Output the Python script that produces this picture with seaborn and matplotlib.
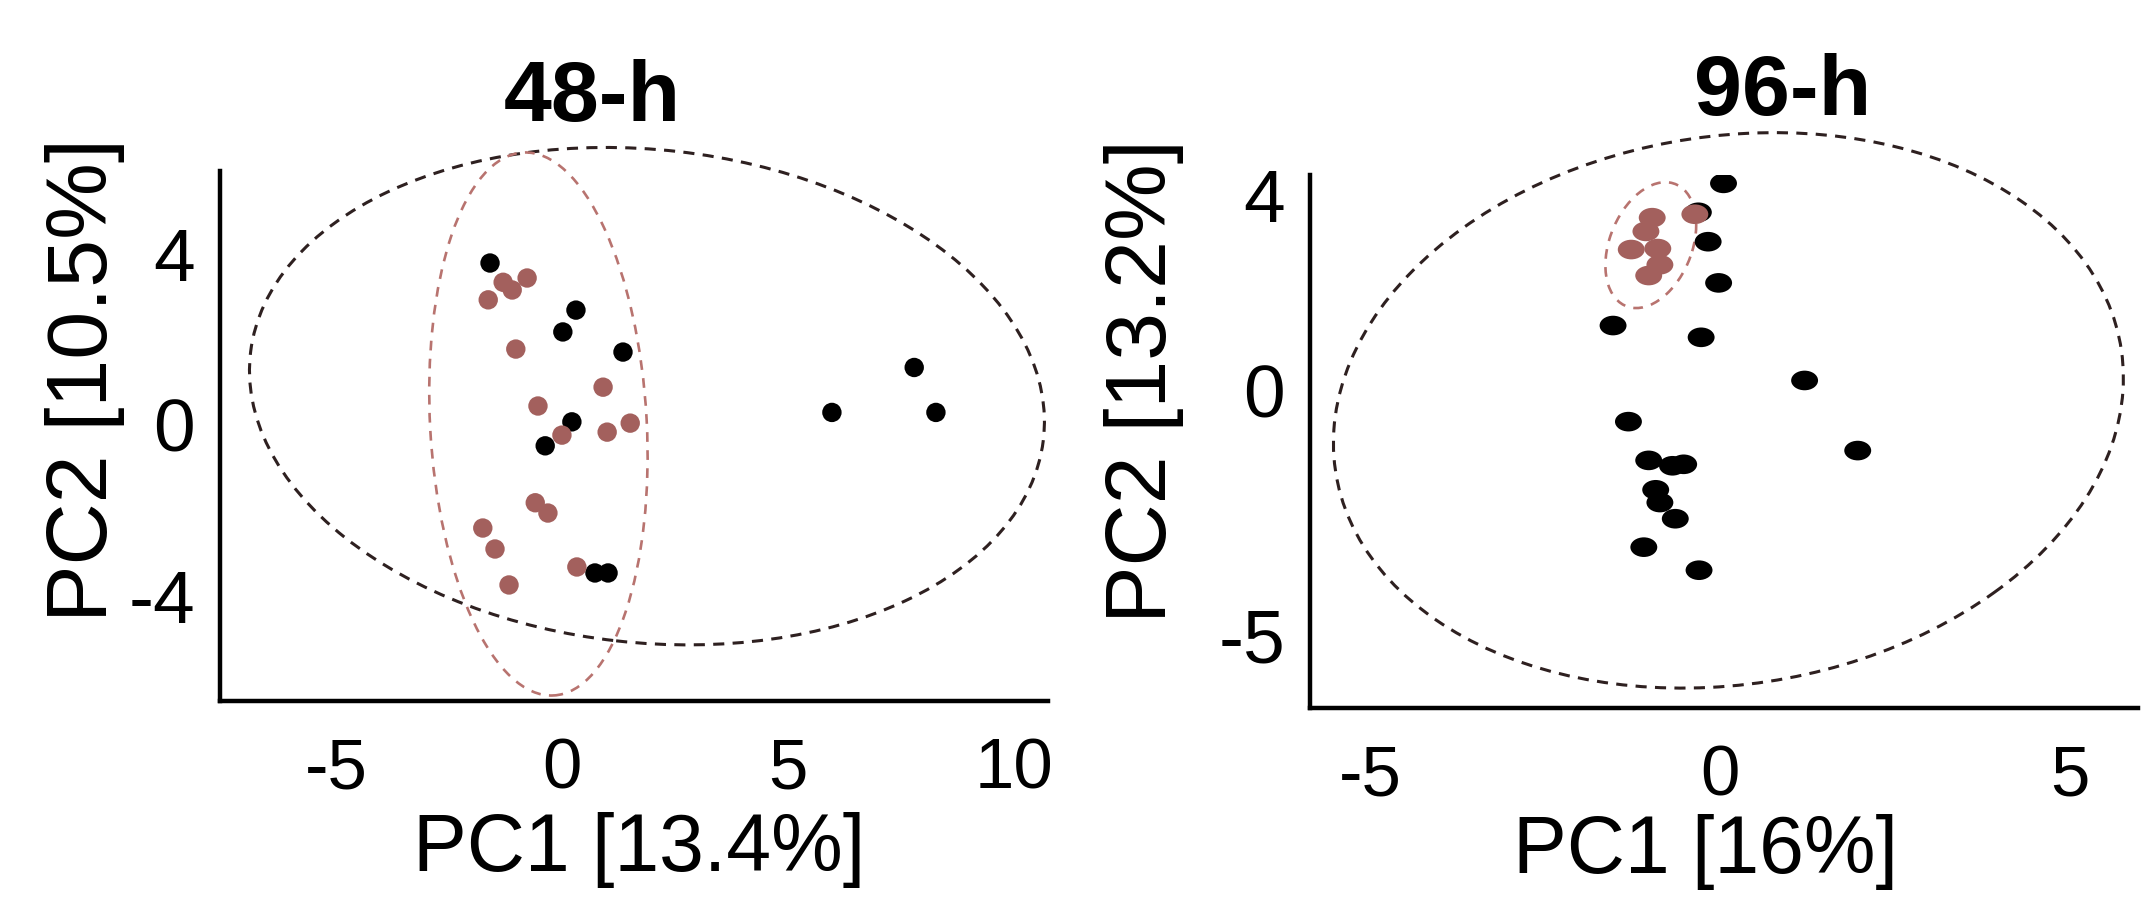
import matplotlib
matplotlib.use('Agg')
import pandas as pd
import seaborn as sns
import matplotlib.pyplot as plt
from matplotlib.patches import Ellipse
from matplotlib.markers import MarkerStyle
from matplotlib.transforms import Affine2D
from matplotlib import font_manager

# ---- 48-h scores ----
pc1_48_a = [-1.59, 0.31, 0.02, 1.35, 0.22, -0.37, 7.79, 5.97, 8.27, 0.73, 1.02]
pc2_48_a = [3.78, 2.68, 2.17, 1.70, 0.07, -0.49, 1.34, 0.29, 0.29, -3.46, -3.46]
pc1_48_b = [-1.30, -1.10, -0.77, -1.63, -1.02, 0.91, -0.53, 0.00, 1.00, 1.51,
            -0.59, -0.31, -1.75, -1.48, 0.33, -1.17]
pc2_48_b = [3.33, 3.15, 3.43, 2.92, 1.77, 0.88, 0.44, -0.24, -0.17, 0.04,
            -1.82, -2.06, -2.41, -2.90, -3.32, -3.74]

# ---- 96-h scores ----
pc1_96_a = [0.05, -0.31, -0.17, -0.02, -1.53, -0.27, 1.21, -1.31, 1.97, -1.02,
            -0.68, -0.52, -0.92, -0.86, -0.64, -1.09, -0.30]
pc2_96_a = [4.23, 3.64, 3.04, 2.20, 1.33, 1.09, 0.21, -0.63, -1.22, -1.42,
            -1.53, -1.50, -2.02, -2.28, -2.61, -3.19, -3.66]
pc1_96_b = [-0.97, -1.06, -1.27, -0.89, -0.86, -1.02, -0.36]
pc2_96_b = [3.53, 3.25, 2.88, 2.90, 2.57, 2.35, 3.60]

# confidence ellipses (center x, center y, width, height, angle), group A then B
ell48_cx = [1.88, -0.52]
ell48_cy = [0.67, 0.02]
ell48_w = [17.65, 4.79]
ell48_h = [11.51, 12.70]
ell48_ang = [-6.8, 3.0]

ell96_cx = [0.12, -0.99]
ell96_cy = [-0.40, 2.97]
ell96_w = [11.96, 2.61]
ell96_h = [10.63, 1.21]
ell96_ang = [45.6, 78.2]

titles = ['48-h', '96-h']
xlabels = ['PC1 [13.4%]', 'PC1 [16%]']
ylabels = ['PC2 [10.5%]', 'PC2 [13.2%]']
xticks = [[-5, 0, 5, 10], [-5, 0, 5]]
yticks = [[4, 0, -4], [4, 0, -5]]

BLACK = '#000000'
BROWN = '#a3605d'
ELL_DARK = '#2e2020'
ELL_BROWN = '#b8736f'

sns.set_style('white')
plt.rcParams['font.family'] = ['Liberation Sans', 'DejaVu Sans']
plt.rcParams['axes.unicode_minus'] = False
plt.rcParams['lines.scale_dashes'] = False
for key in ['text.color', 'axes.labelcolor', 'xtick.color', 'ytick.color']:
    plt.rcParams[key] = 'black'

names = {f.name for f in font_manager.fontManager.ttflist}
narrow = 'Liberation Sans Narrow' if 'Liberation Sans Narrow' in names else 'Liberation Sans'

fig = plt.figure(figsize=(21.49, 8.98), dpi=100)
ax1 = fig.add_axes([0.1024, 0.2194, 0.3853, 0.5902])
ax2 = fig.add_axes([0.6096, 0.2116, 0.3853, 0.5935])


def make_df(x_a, y_a, x_b, y_b):
    return pd.DataFrame({
        'PC1': x_a + x_b,
        'PC2': y_a + y_b,
        'group': ['A'] * len(x_a) + ['B'] * len(x_b),
    })


df48 = make_df(pc1_48_a, pc2_48_a, pc1_48_b, pc2_48_b)
df96 = make_df(pc1_96_a, pc2_96_a, pc1_96_b, pc2_96_b)
pal = {'A': BLACK, 'B': BROWN}

sns.scatterplot(data=df48, x='PC1', y='PC2', hue='group', palette=pal, s=195,
                linewidth=0, legend=False, ax=ax1, zorder=3)
# points in the 96-h panel are slightly squashed ovals
oval = MarkerStyle('o', transform=Affine2D().scale(1.37, 1.0))
sns.scatterplot(data=df96, x='PC1', y='PC2', hue='group', palette=pal, s=200,
                marker=oval, linewidth=0, legend=False, ax=ax2, zorder=3)

for ax, cx, cy, w, h, ang in [(ax1, ell48_cx, ell48_cy, ell48_w, ell48_h, ell48_ang),
                               (ax2, ell96_cx, ell96_cy, ell96_w, ell96_h, ell96_ang)]:
    styles = [(ELL_DARK, 2.2, (0, (8.0, 6.0))), (ELL_BROWN, 1.9, (0, (7.0, 6.0)))]
    for i in range(2):
        col, lw, ls = styles[i]
        ax.add_patch(Ellipse((cx[i], cy[i]), w[i], h[i], angle=ang[i], fill=False,
                             edgecolor=col, linewidth=lw, linestyle=ls, zorder=1,
                             clip_on=False))

ax1.set_xlim(-7.56, 10.75)
ax1.set_ylim(-6.45, 5.93)
ax2.set_xlim(-5.865, 5.98)
ax2.set_ylim(-6.47, 4.40)

title_pos = [(0.449, 1.136), (0.571, 1.154)]
xlab_pos = [(0.506, -0.281), (0.478, -0.270)]
ylab_pos = [(-0.163, 0.606), (-0.200, 0.613)]

for i, ax in enumerate([ax1, ax2]):
    for side in ['top', 'right']:
        ax.spines[side].set_visible(False)
    for side in ['left', 'bottom']:
        ax.spines[side].set_linewidth(3.2)
        ax.spines[side].set_color('black')
    ax.set_xticks(xticks[i], labels=[str(t) for t in xticks[i]], fontsize=51, fontfamily=narrow)
    ax.set_yticks(yticks[i], labels=[str(t) for t in yticks[i]], fontsize=54)
    ax.tick_params(axis='x', length=0, pad=26)
    ax.tick_params(axis='y', length=0, pad=18)
    ax.set_xlabel(xlabels[i], fontsize=58, va='center')
    ax.set_ylabel(ylabels[i], fontsize=62, va='center')
    ax.xaxis.set_label_coords(*xlab_pos[i])
    ax.yaxis.set_label_coords(*ylab_pos[i])
    ax.set_title(titles[i], fontsize=62, fontweight='bold', x=title_pos[i][0],
                 y=title_pos[i][1], va='center', pad=0)

fig.savefig('out.png', dpi=100)
